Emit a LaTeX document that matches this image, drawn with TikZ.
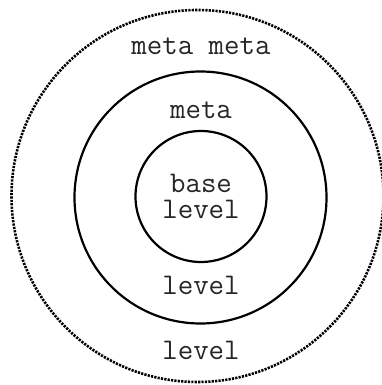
\documentclass[tikz,border=0pt]{standalone}
\usepackage{fontspec}
\begin{document}
\begin{tikzpicture}[x=1pt,y=1pt,
  ring/.style={circle,draw=black,line width=2.2pt,inner sep=0pt},
  dotring/.style={circle,draw=black,line width=2.6pt,dash pattern=on 2.2pt off 1.2pt,inner sep=0pt},
  lbl/.style={font=\ttfamily\fontsize{30}{26}\selectfont,align=center,inner sep=0pt,text=black!85}]
\useasboundingbox (0,0) rectangle (382,385);
\node[dotring,minimum size=372pt] (outer) at (197.5,189) {};
\node[ring,minimum size=252pt] (middle) at (200.5,187.5) {};
\node[ring,minimum size=131pt] (inner) at (201,188.5) {};
\node[lbl] (mm) at (201,339) {meta meta};
\node[lbl] (m) at (201,275) {meta};
\node[lbl] (bl) at (201,189) {base\\level};
\node[lbl] (l1) at (201,100) {level};
\node[lbl] (l2) at (201,35) {level};
\end{tikzpicture}
\end{document}
